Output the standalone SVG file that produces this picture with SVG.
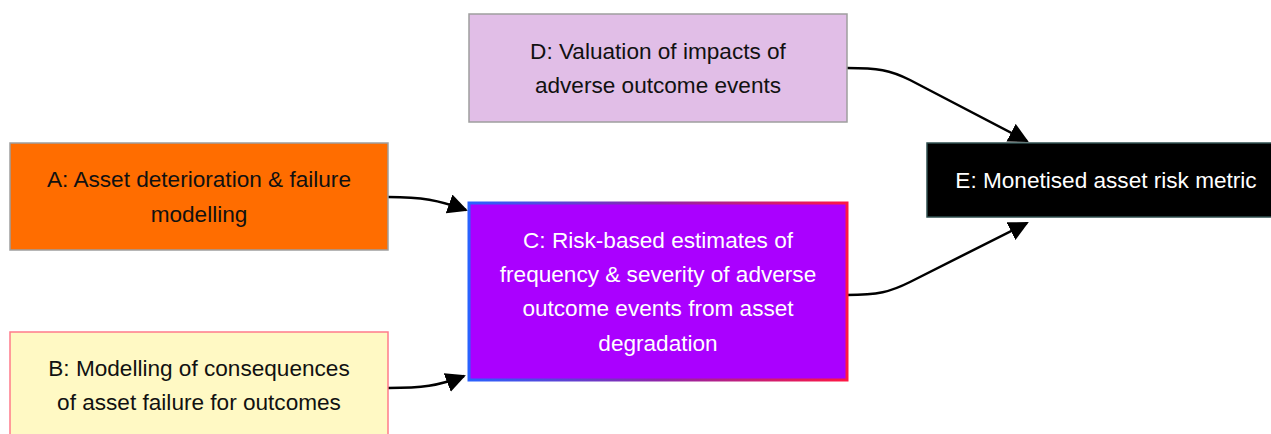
<svg xmlns="http://www.w3.org/2000/svg" width="1271" height="434" viewBox="0 0 1271 434">
  <style>
    .box { stroke-width: 1.5; }
    .lbl { font-family: "Liberation Sans", Arial, sans-serif; font-size: 22.6px; text-anchor: middle; dominant-baseline: central; fill: #111; }
    .lbl.light { fill: #fff; }
    .edge { fill: none; stroke: #000; stroke-width: 2.5; marker-end: url(#arrow); }
  </style>
  <defs>
    <marker id="arrow" markerUnits="userSpaceOnUse" markerWidth="20" markerHeight="20" viewBox="0 0 10 10" refX="9" refY="5" orient="auto">
      <path d="M0,0 L10,5 L0,10 z" fill="#000"/>
    </marker>
    <linearGradient id="cStroke" x1="0" y1="0" x2="1" y2="0">
      <stop offset="0" stop-color="#2962ff"/>
      <stop offset="0.5" stop-color="#8e24aa"/>
      <stop offset="1" stop-color="#ff1744"/>
    </linearGradient>
  </defs>
  <rect width="1271" height="434" fill="#fff"/>

  <g id="connectors">
    <path class="edge" d="M388,197 C422,197 438,200 466,210"/>
    <path class="edge" d="M388,388 C422,388 438,386 464,376"/>
    <path class="edge" d="M847,68 C878,68 890,70 910,80 L1027,141"/>
    <path class="edge" d="M847,295 C878,295 890,292 910,282 L1027,223"/>
  </g>

  <g id="node-a">
    <rect class="box" x="10" y="143" width="378" height="107" fill="#ff6d00" stroke="#9e9e9e"/>
    <text class="lbl" x="199" y="179">A: Asset deterioration &amp; failure</text>
    <text class="lbl" x="199" y="214">modelling</text>
  </g>

  <g id="node-b">
    <rect class="box" x="10" y="332" width="378" height="106" fill="#fff9c4" stroke="#ff7b8a"/>
    <text class="lbl" x="199" y="368">B: Modelling of consequences</text>
    <text class="lbl" x="199" y="402">of asset failure for outcomes</text>
  </g>

  <g id="node-c">
    <rect x="469" y="203" width="378" height="177" fill="#aa00ff" stroke="url(#cStroke)" stroke-width="3"/>
    <text class="lbl light" x="658" y="240">C: Risk-based estimates of</text>
    <text class="lbl light" x="658" y="274">frequency &amp; severity of adverse</text>
    <text class="lbl light" x="658" y="308">outcome events from asset</text>
    <text class="lbl light" x="658" y="343">degradation</text>
  </g>

  <g id="node-d">
    <rect class="box" x="469" y="14" width="378" height="108" fill="#e1bee7" stroke="#9e9e9e"/>
    <text class="lbl" x="658" y="51">D: Valuation of impacts of</text>
    <text class="lbl" x="658" y="85">adverse outcome events</text>
  </g>

  <g id="node-e">
    <rect class="box" x="927" y="143" width="360" height="74" fill="#000" stroke="#2f4f4f"/>
    <text class="lbl light" x="1106" y="180">E: Monetised asset risk metric</text>
  </g>
</svg>
